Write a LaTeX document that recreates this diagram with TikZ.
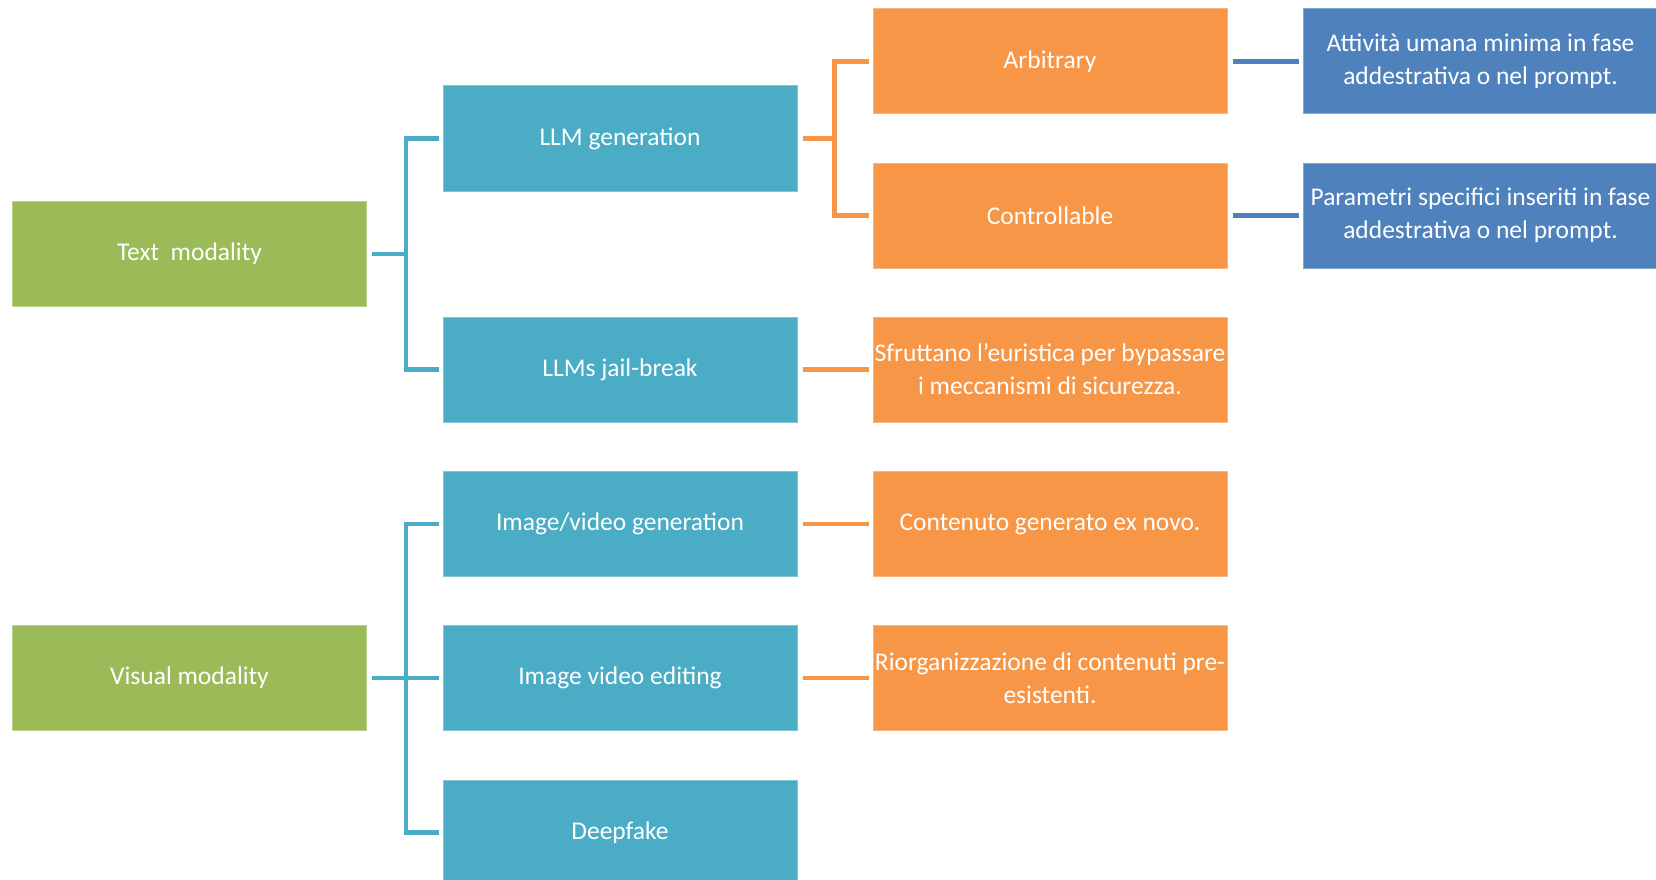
\documentclass[tikz,border=0pt]{standalone}
\usepackage{fontspec}
\setmainfont{Carlito}
\usetikzlibrary{positioning}
\definecolor{cgreen}{HTML}{9BBB59}
\definecolor{cteal}{HTML}{4BACC6}
\definecolor{corange}{HTML}{F79646}
\definecolor{cblue}{HTML}{4F81BD}
\tikzset{
  box/.style={rectangle, minimum width=354pt, minimum height=105pt, inner sep=0pt,
    text=white, align=center, line width=1pt,
    font=\fontsize{25.5}{33}\selectfont},
  gbox/.style={box, fill=cgreen, draw=cgreen!70!white},
  tbox/.style={box, fill=cteal, draw=cteal!70!white},
  obox/.style={box, fill=corange, draw=corange!70!white},
  bbox/.style={box, fill=cblue, draw=cblue!70!white},
  conn/.style={line width=4.5pt, line join=miter},
  tconn/.style={conn, draw=cteal},
  oconn/.style={conn, draw=corange},
  bconn/.style={conn, draw=cblue},
}
\begin{document}
\begin{tikzpicture}[x=1pt, y=-1pt]
\clip (0,0) rectangle (1656,880);
\fill[white] (0,0) rectangle (1656,880);

% first column: modalities
\node[gbox] (tm) at (189.5,254) {Text\ \ modality};
\node[gbox] (vm) at (189.5,678) {Visual modality};

% second column: techniques
\node[tbox] (llm) at (620,138.5) {LLM generation};
\node[tbox] (jb)  at (620,369.5) {LLMs jail-break};
\node[tbox] (ivg) at (620,524)   {Image/video generation};
\node[tbox] (ive) at (620,678)   {Image video editing};
\node[tbox] (df)  at (620,832.5) {Deepfake};

% third column: variants and descriptions
\node[obox] (arb) at (1050,61.5)  {Arbitrary};
\node[obox] (ctl) at (1050,215.5) {Controllable};
\node[obox] (sfr) at (1050,369.5) {Sfruttano l’euristica per bypassare\\i meccanismi di sicurezza.};
\node[obox] (cgn) at (1050,524)   {Contenuto generato ex novo.};
\node[obox] (rio) at (1050,678)   {Riorganizzazione di contenuti pre-\\esistenti.};

% fourth column: details
\node[bbox] (att) at (1480.5,61.5)  {Attività umana minima in fase\\addestrativa o nel prompt.};
\node[bbox] (par) at (1480.5,215.5) {Parametri specifici inseriti in fase\\addestrativa o nel prompt.};

% brackets from the modalities
\coordinate (tmj) at ([xshift=39pt]tm.east);
\draw[tconn] ([xshift=5pt]tm.east) -- (tmj);
\draw[tconn] ([xshift=-4pt]llm.west) -| (tmj) |- ([xshift=-4pt]jb.west);

\coordinate (vmj) at ([xshift=39pt]vm.east);
\draw[tconn] ([xshift=5pt]vm.east) -- ([xshift=-4pt]ive.west);
\draw[tconn] ([xshift=-4pt]ivg.west) -| (vmj) |- ([xshift=-4pt]df.west);

% bracket from LLM generation
\coordinate (llmj) at ([xshift=37pt]llm.east);
\draw[oconn] ([xshift=5pt]llm.east) -- (llmj);
\draw[oconn] ([xshift=-4pt]arb.west) -| (llmj) |- ([xshift=-4pt]ctl.west);

% single links
\draw[oconn] ([xshift=5pt]jb.east)  -- ([xshift=-4pt]sfr.west);
\draw[oconn] ([xshift=5pt]ivg.east) -- ([xshift=-4pt]cgn.west);
\draw[oconn] ([xshift=5pt]ive.east) -- ([xshift=-4pt]rio.west);
\draw[bconn] ([xshift=5pt]arb.east) -- ([xshift=-4pt]att.west);
\draw[bconn] ([xshift=5pt]ctl.east) -- ([xshift=-4pt]par.west);
\end{tikzpicture}
\end{document}
